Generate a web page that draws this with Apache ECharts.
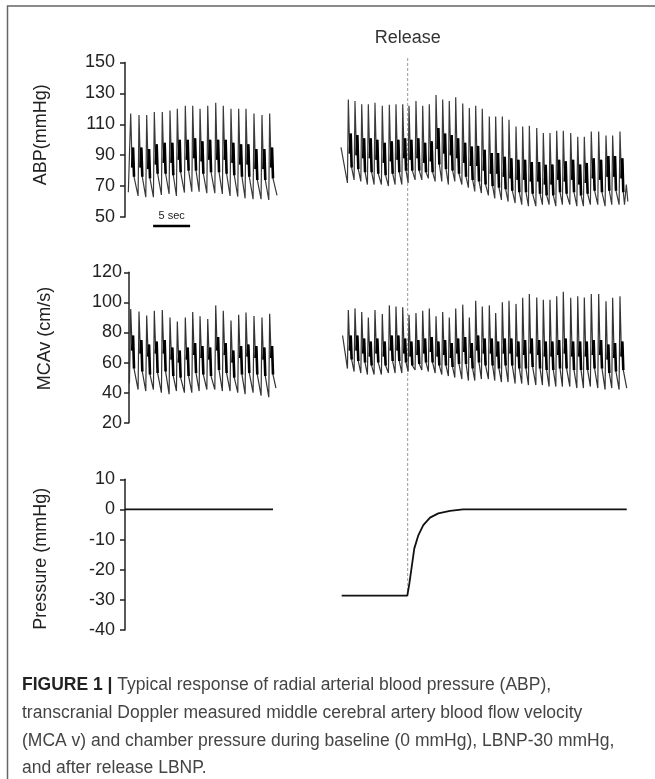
<!DOCTYPE html>
<html><head><meta charset="utf-8">
<script src="https://cdn.jsdelivr.net/npm/echarts@6/dist/echarts.min.js"></script>
<style>html,body{margin:0;padding:0;background:#fff}#c{width:655px;height:779px}</style>
</head><body><div id="c"></div>
<script>
// ---------- DATA ----------
// beat (systolic peak) times, seconds
const beatTimesLeft = [0.77,1.89,2.93,3.96,5.04,6.08,7.07,8.15,9.15,10.14,11.18,12.26,13.28,14.32,15.36,16.35,17.43,18.51,19.55];
const beatTimesRight = [30.18,31.08,31.99,32.88,33.78,34.77,35.72,36.62,37.53,38.38,39.32,40.23,41.12,42.03,42.93,43.82,44.69,45.64,46.53,47.39,48.28,49.23,50.09,50.99,51.89,52.84,53.74,54.64,55.64,56.53,57.43,58.34,59.23,60.23,61.18,62.07,63.01,64.01,65.0,65.9,66.89];

// ABP, baseline (left)
const abpLeftStart = [0.45, 66];
const abpLeftSys   = [117,116,116,118,118,119,120,122,122,120,122,124,122,120,120,120,117,116,117];
const abpLeftNotch = [82,82,81,84,85,85,87,87,88,86,87,87,87,85,84,84,81,81,82];
const abpLeftSec   = [95,95,94,97,98,98,100,100,101,99,100,100,100,98,97,97,94,94,95];
const abpLeftLow   = [76,76,75,78,78,77,79,80,80,78,79,79,78,77,76,76,74,74,75];
const abpLeftDia   = [66,63.6,62.8,62.8,64.3,64.9,63.6,65.8,66.4,66.4,65.4,65.4,64.9,63.6,63.2,62.1,61.5,61.5,61,64];
const abpLeftEnd   = 20.54;

// ABP, LBNP + release (right)
const abpRightStart = [29.19, 95];
const abpRightSys   = [126,125,123,123,124,122,122.7,123,123,122,125,122,123,129,126,125,127.5,123.5,120.6,122,120,115,115,115,113,108.6,108.6,109,107.6,104.3,104.3,105.8,105.8,104.3,102,102,105.4,105.4,102.8,102.8,105.4];
const abpRightNotch = [91,90,88,88,87,85,86,87,88,87,88,85,86,94,91,90,88,85,83,83,80,78,78,76,75,74,74,73,73,71,71,74,73,74,71,72,75,74,76,76,75];
const abpRightSec   = [104,103,101,101,100,98,99,100,101,100,101,98,99,107.6,104,103,101,98,95.6,96,93.5,91.4,91.4,89,88,87,87,85.5,85.5,83.8,84,87,86,87,84,85,88,87,89.5,89.5,88];
const abpRightLow   = [82,81,79,79,78,77,78,79,80,80,80,79,79,84,81,80,78,76,74,73,71,70,69,68,67,66,66,65,65,64,64,66,65,66,64,65,67,66,67,67,66];
const abpRightDia   = [72,74,73,71,71,71,70,71,71,72,74,74,75,73,73,71,73,71,69,66.5,65.5,64,62,61,60,59,58,57,57,58,58,57,58,58,57,57,58,58,57,58,58,58];
const abpRightEnd   = 67.5;
const abpRightTail  = [[67.75,71],[67.95,60]];

// MCAv, baseline (left)
const mcaLeftStart = [0.6, 46];
const mcaLeftSys   = [95.6,94,91.3,94.5,95,90,87.3,90,93.6,90.7,89,98,94.5,88,91.8,93.3,91,90,92.5];
const mcaLeftNotch = [68,66,64,66,66,62,60,62,65,63,62,68,65,60,63,64,63,62,63];
const mcaLeftSec   = [78,75,72,74,75,70,68,70,73,71,70,77,73,68,71,72,71,70,71];
const mcaLeftLow   = [56,54,52,53,54,51,50,51,53,52,51,55,53,50,52,53,52,51,52];
const mcaLeftDia   = [46,42,41,42,40,39,41,40,40,41,42,42,41,41,40,39,40,38,37,43];
const mcaLeftEnd   = 20.4;

// MCAv, LBNP + release (right)
const mcaRightStart = [29.4, 78];
const mcaRightSys   = [95,96,93.6,90,95,92.3,98,97.3,96.7,91.8,93,94.5,96,90.7,93.6,90,96,98.5,90,101,97.3,98,93,100,101,99,103,105.6,103.3,101.8,101.8,104,107,103,104,103.3,105.6,105.6,100.7,103,104];
const mcaRightNotch = [68,68,66,64,66,64,68,68,66,64,65,66,67,64,65,63,66,67,63,68,66,66,64,66,66,64,65,66,65,64,64,65,66,64,64,64,65,65,62,63,64];
const mcaRightSec   = [78,78,76,74,76,74,78,78,76,74,75,76,77,74,75,73,76,77,73,78,76,76,74,76,76,74,75,76,75,74,74,75,76,74,74,74,75,75,72,73,74];
const mcaRightLow   = [62,61,60,58,60,58,61,61,60,58,59,60,60,58,58,57,59,59,56,60,58,58,56,58,58,56,56,57,56,55,55,56,56,55,55,55,56,56,53,54,55];
const mcaRightDia   = [56,54,53,52,52,52,53,53,53,54,55,55,54,53,52,51,50,49,48,48,49,49,48,47,47,46,46,45,45,45,44,44,44,44,43,43,44,43,42,43,42,43];
const mcaRightEnd   = 67.8;

// Chamber pressure
const pressLeftTimes  = [0, 20.0];
const pressLeftValues = [0, 0];
const pressRightTimes  = [29.28,38.15,38.28,38.42,38.74,39.09,39.64,40.31,41.22,42.34,43.92,45.68,67.8];
const pressRightValues = [-28.6,-28.6,-28,-24.7,-19.1,-13,-8.6,-5.2,-2.7,-1.3,-0.5,0,0];

// axis scales / tick labels
const abpTicks   = {min: 50, max: 150, interval: 20};
const mcaTicks   = {min: 20, max: 120, interval: 20};
const pressTicks = {min: -40, max: 10, interval: 10};
const timeRange  = {min: 0, max: 68};
const releaseTime = 38.2;
const lbnpLevel = -28.6;
const scaleBarStart = 3.8, scaleBarLen = 5;

// ---------- BUILD ----------
// offsets (s) of shape points relative to each systolic peak
const OFF = {up: -0.12, notch: 0.2, sec: 0.32, low: 0.45};
function wave(times, start, sys, notch, sec, low, dia, end, tail) {
  const full = [start.slice()], dark = [];
  for (let i = 0; i < times.length; i++) {
    const t = times[i];
    full.push([t + OFF.up, dia[i]], [t, sys[i]], [t + OFF.notch, notch[i]], [t + OFF.sec, sec[i]], [t + OFF.low, low[i]]);
    dark.push([t + OFF.notch, notch[i]], [t + OFF.sec, sec[i]], [t + OFF.low, low[i]], [t + OFF.low + 0.01, null]);
  }
  full.push([end, dia[times.length]]);
  (tail || []).forEach(p => full.push(p.slice()));
  return {full, dark};
}
const zip = (a, b) => a.map((v, i) => [v, b[i]]);

const abpL = wave(beatTimesLeft, abpLeftStart, abpLeftSys, abpLeftNotch, abpLeftSec, abpLeftLow, abpLeftDia, abpLeftEnd);
const abpR = wave(beatTimesRight, abpRightStart, abpRightSys, abpRightNotch, abpRightSec, abpRightLow, abpRightDia, abpRightEnd, abpRightTail);
const mcaL = wave(beatTimesLeft, mcaLeftStart, mcaLeftSys, mcaLeftNotch, mcaLeftSec, mcaLeftLow, mcaLeftDia, mcaLeftEnd);
const mcaR = wave(beatTimesRight, mcaRightStart, mcaRightSys, mcaRightNotch, mcaRightSec, mcaRightLow, mcaRightDia, mcaRightEnd);

const FONT = "'Liberation Sans', Arial, Helvetica, sans-serif";
const INK = '#222';
const grids = [
  {left: 125, top: 62.5, height: 154.5, width: 503.2},
  {left: 125, top: 272.3, height: 150.4, width: 503.2},
  {left: 125, top: 479.3, height: 150.7, width: 503.2}
];
function yAx(g, t, name, pad, off, margin) {
  return {
    type: 'value', gridIndex: g, min: t.min, max: t.max, interval: t.interval, offset: off || 0,
    axisLine: {show: true, lineStyle: {color: INK, width: 1.5}},
    axisTick: {show: true, length: 5, lineStyle: {color: INK, width: 1.5}},
    axisLabel: {color: INK, fontSize: 18, fontFamily: FONT, margin: margin},
    splitLine: {show: false},
    name: name, nameLocation: 'middle', nameGap: 75,
    nameTextStyle: {color: INK, fontSize: 18, fontFamily: FONT, padding: pad}
  };
}
const xAx = g => ({type: 'value', gridIndex: g, min: timeRange.min, max: timeRange.max, show: false});
const lineS = (g, data, color, width, z) => ({
  type: 'line', xAxisIndex: g, yAxisIndex: g, data, showSymbol: false, symbol: 'none',
  connectNulls: false, lineStyle: {color, width}, z: z || 2, silent: true
});

const chart = echarts.init(document.getElementById('c'));
chart.setOption({
  animation: false,
  backgroundColor: '#fff',
  grid: grids,
  xAxis: [xAx(0), xAx(1), xAx(2)],
  yAxis: [
    yAx(0, abpTicks, 'ABP(mmHg)', [0, 0, 0, 10], 0, 10),
    yAx(1, mcaTicks, 'MCAv (cm/s)', [0, 0, 0, 18], -4, 7),
    yAx(2, pressTicks, 'Pressure (mmHg)', [0, 8, 0, 0], 0, 10)
  ],
  series: [
    lineS(0, abpL.full, '#3a3a3a', 1.2), lineS(0, abpL.dark, '#000', 2.6, 3),
    lineS(0, abpR.full, '#3a3a3a', 1.2), lineS(0, abpR.dark, '#000', 2.6, 3),
    lineS(1, mcaL.full, '#333', 1.2), lineS(1, mcaL.dark, '#000', 2.6, 3),
    lineS(1, mcaR.full, '#333', 1.2), lineS(1, mcaR.dark, '#000', 2.6, 3),
    lineS(2, zip(pressLeftTimes, pressLeftValues), '#111', 1.8),
    lineS(2, zip(pressRightTimes, pressRightValues), '#111', 1.8)
  ]
});

const px = (g, p) => chart.convertToPixel({gridIndex: g}, p);
const relX = px(0, [releaseTime, 100])[0];
const relBottom = px(2, [releaseTime, lbnpLevel])[1];
const sbA = px(0, [scaleBarStart, abpTicks.min]);
const sbB = px(0, [scaleBarStart + scaleBarLen, abpTicks.min]);
const CAP = "'Liberation Sans', Arial, sans-serif";
const capLines = [
  '{b|FIGURE 1 |} Typical response of radial arterial blood pressure (ABP),',
  'transcranial Doppler measured middle cerebral artery blood flow velocity',
  '(MCA v) and chamber pressure during baseline (0 mmHg), LBNP-30 mmHg,',
  'and after release LBNP.'
];
const graphics = [
  {type: 'rect', shape: {x: 7.5, y: 6, width: 700, height: 800}, style: {fill: 'none', stroke: '#666', lineWidth: 1.5}, z: 0, silent: true},
  {type: 'line', shape: {x1: relX, y1: 58, x2: relX, y2: relBottom}, style: {stroke: '#999', lineWidth: 1, lineDash: [3, 2]}, z: 1, silent: true},
  {type: 'text', x: relX, y: 38.5, style: {text: 'Release', fontSize: 18, fontFamily: FONT, fill: '#333', align: 'center', verticalAlign: 'middle'}, silent: true},
  {type: 'line', shape: {x1: sbA[0], y1: sbA[1] + 9, x2: sbB[0], y2: sbB[1] + 9}, style: {stroke: '#000', lineWidth: 2.5}, silent: true},
  {type: 'text', x: (sbA[0] + sbB[0]) / 2, y: sbA[1] - 1, style: {text: '5 sec', fontSize: 11, fontFamily: FONT, fill: '#222', align: 'center', verticalAlign: 'middle'}, silent: true}
];
capLines.forEach((t, i) => graphics.push({
  type: 'text', x: 22, y: 685.5 + i * 27.6,
  style: {text: t, fontSize: 17.5, fontFamily: CAP, fill: '#444', align: 'left', verticalAlign: 'middle',
    rich: {b: {fontSize: 17.5, fontFamily: CAP, fontWeight: 'bold', fill: '#222'}}},
  silent: true
}));
chart.setOption({graphic: graphics});
</script>
</body></html>
